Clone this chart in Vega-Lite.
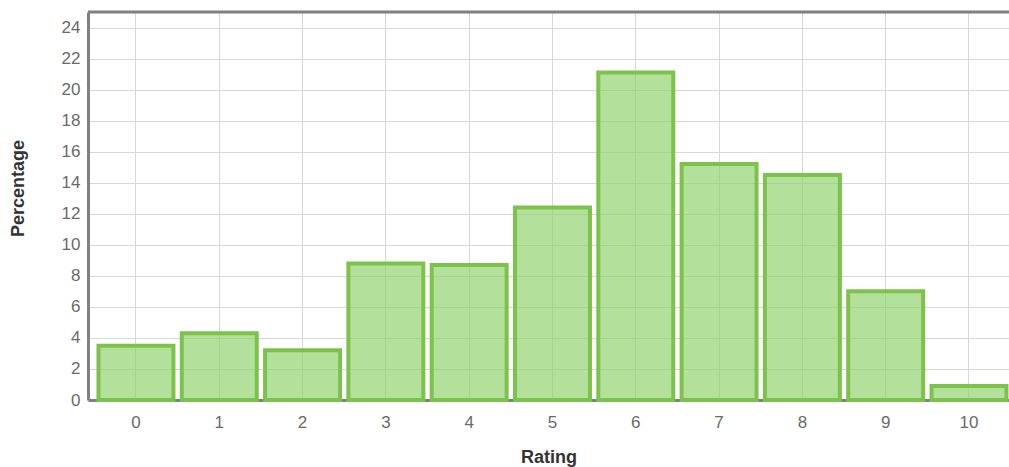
{
  "$schema": "https://vega.github.io/schema/vega-lite/v6.json",
  "width": 921,
  "height": 388,
  "autosize": {"type": "none"},
  "padding": {"left": 88, "top": 12, "right": 0, "bottom": 67},
  "background": "white",
  "config": {"view": {"stroke": null}, "font": "Liberation Sans"},
  "data": {
    "values": [
      {"Rating": 0, "Percentage": 3.5},
      {"Rating": 1, "Percentage": 4.3},
      {"Rating": 2, "Percentage": 3.2},
      {"Rating": 3, "Percentage": 8.8},
      {"Rating": 4, "Percentage": 8.7},
      {"Rating": 5, "Percentage": 12.4},
      {"Rating": 6, "Percentage": 21.1},
      {"Rating": 7, "Percentage": 15.2},
      {"Rating": 8, "Percentage": 14.5},
      {"Rating": 9, "Percentage": 7.0},
      {"Rating": 10, "Percentage": 0.9}
    ]
  },
  "encoding": {
    "y": {
      "field": "Percentage",
      "type": "quantitative",
      "scale": {"domain": [0, 25], "nice": false},
      "axis": {
        "title": "Percentage",
        "values": [0, 2, 4, 6, 8, 10, 12, 14, 16, 18, 20, 22, 24],
        "ticks": false,
        "labelPadding": 8,
        "labelFontSize": 17,
        "labelOverlap": false,
        "labelColor": "#6a6a6a",
        "domainColor": "#808080",
        "domainWidth": 3,
        "gridColor": "#d8d8d8",
        "gridWidth": 1,
        "titleFontSize": 18,
        "titleFontWeight": "bold",
        "titleColor": "#333333",
        "titleX": -70,
        "titleY": 176,
        "titleAngle": -90,
        "titleAlign": "center",
        "titleBaseline": "middle"
      }
    }
  },
  "layer": [
    {
      "mark": {"type": "bar", "fill": "#8fd16a", "fillOpacity": 0.68, "stroke": "#7dc24b", "strokeWidth": 4},
      "encoding": {
        "x": {
          "field": "Rating",
          "type": "ordinal",
          "scale": {"paddingInner": 0.1, "paddingOuter": 0.078, "align": 0.806},
          "axis": {
            "title": "Rating",
            "labelAngle": 0,
            "ticks": false,
            "labelPadding": 14,
            "labelFontSize": 17,
            "labelOverlap": false,
            "labelColor": "#6a6a6a",
            "domainColor": "#808080",
            "domainWidth": 3,
            "grid": true,
            "gridColor": "#d8d8d8",
            "gridWidth": 1,
            "titleFontSize": 18,
            "titleFontWeight": "bold",
            "titleColor": "#333333",
            "titlePadding": 18
          }
        }
      }
    },
    {
      "data": {"values": [{"Percentage": 25}]},
      "mark": {"type": "rule", "color": "#808080", "strokeWidth": 3},
      "encoding": {}
    }
  ]
}
